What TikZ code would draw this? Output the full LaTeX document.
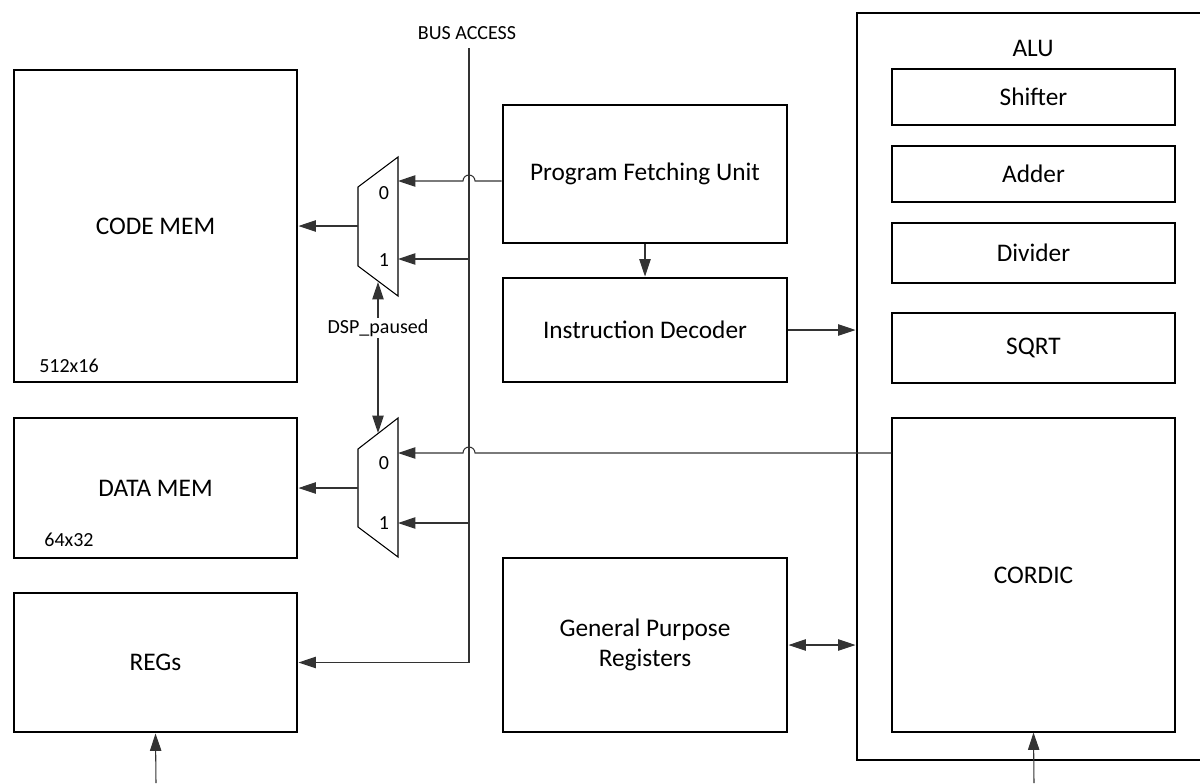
\documentclass[tikz,border=0pt]{standalone}
\usepackage{fontspec}
\setmainfont{Carlito}
\usetikzlibrary{arrows.meta,calc}
\begin{document}
\begin{tikzpicture}[x=0.75pt,y=-0.75pt,
  thickbox/.style={draw=black, line width=2.2pt, inner sep=0pt, font=\fontsize{19}{22}\selectfont},
  thinbox/.style={draw=black, line width=0.8pt, inner sep=0pt, font=\fontsize{19}{22}\selectfont},
  big/.style={font=\fontsize{19}{22}\selectfont, inner sep=1pt},
  small/.style={font=\fontsize{15}{18}\selectfont, inner sep=1pt},
  wire/.style={draw=black!80, line width=0.8pt},
  tip/.tip={Triangle[length=13pt,width=8.5pt]},
  arr/.style={wire, -tip},
  muxshape/.style={draw=black, line width=0.8pt},
  sz/.style 2 args={minimum width=#1*0.75pt, minimum height=#2*0.75pt},
]
\useasboundingbox (0,0) rectangle (1200,783);
\clip (0,0) rectangle (1200,783);

% left memories
\node[thickbox, sz={283}{312}] (code) at (155.5,226) {CODE MEM};
\node[small] (codesz) at (69,366) {512x16};
\node[thickbox, sz={283}{140}] (data) at (155.5,488) {DATA MEM};
\node[small] (datasz) at (69,540) {64x32};
\node[thickbox, sz={283}{139}] (regs) at (155.5,662.5) {REGs};

% middle blocks
\node[thickbox, sz={284}{138}] (pfu) at (645,174) {Program Fetching Unit};
\node[thickbox, sz={284}{104}] (id) at (645,330) {Instruction Decoder};
\node[thickbox, sz={284}{174}, align=center] (gpr) at (645,645) {General Purpose\\Registers};

% ALU
\node[thickbox, sz={358}{747}] (alu) at (1036,386.5) {};
\node[big] (alulbl) at (1033,48) {ALU};
\node[thinbox, sz={283}{56}] (shifter) at (1033.5,97) {Shifter};
\node[thinbox, sz={283}{56}] (adder) at (1033.5,174) {Adder};
\node[thinbox, sz={283}{60}] (divider) at (1033.5,253) {Divider};
\node[thinbox, sz={283}{70}] (sqrt) at (1033.5,348) {SQRT};
\node[thinbox, sz={283}{314}] (cordic) at (1033.5,575) {CORDIC};

% muxes
\draw[muxshape] (358,187) -- (398,157) -- (398,296) -- (358,266) -- cycle;
\coordinate (m1a) at (398,181);
\coordinate (m1b) at (398,259);
\coordinate (m1o) at (358,226);
\node[small] (m1l0) at (384,193) {0};
\node[small] (m1l1) at (384,260) {1};

\draw[muxshape] (358,449) -- (398,418) -- (398,557) -- (358,527) -- cycle;
\coordinate (m2a) at (398,453);
\coordinate (m2b) at (398,523);
\coordinate (m2o) at (358,488);
\node[small] (m2l0) at (384,463) {0};
\node[small] (m2l1) at (384,523) {1};

% bus
\coordinate (bustop) at (469,48);
\node[small] (buslbl) at (467,33) {BUS ACCESS};
\draw[arr] (bustop) -- (bustop |- regs.east) -- (regs.east);
\draw[arr] (bustop |- m1b) -- (m1b);
\draw[arr] (bustop |- m2b) -- (m2b);

% mux inputs with hops
\draw[arr] (pfu.west |- m1a) -- (475,181) arc[start angle=0,end angle=180,radius=4.5pt] -- (m1a);
\draw[arr] (cordic.west |- m2a) -- (475,453) arc[start angle=0,end angle=180,radius=4.5pt] -- (m2a);

% mux outputs
\draw[arr] (m1o) -- (code.east);
\draw[arr] (m2o) -- (data.east);

% select
\node[small] (dsp) at (378,328) {DSP\_paused};
\coordinate (s1) at (378,282);
\coordinate (s2) at (378,433);
\draw[arr] (dsp.north) -- (s1);
\draw[arr] (dsp.south) -- (s2);

% control
\draw[arr] (pfu.south) -- (id.north);
\draw[arr] (id.east) -- (id.east -| alu.west);
\draw[wire, tip-tip] (gpr.east) -- (gpr.east -| alu.west);

% bottom inputs
\coordinate (regsin) at (156,783);
\coordinate (cordin) at (1034,783);
\draw[arr] (regsin) -- (regs.south);
\draw[arr] (cordin) -- (cordic.south);
\end{tikzpicture}
\end{document}
